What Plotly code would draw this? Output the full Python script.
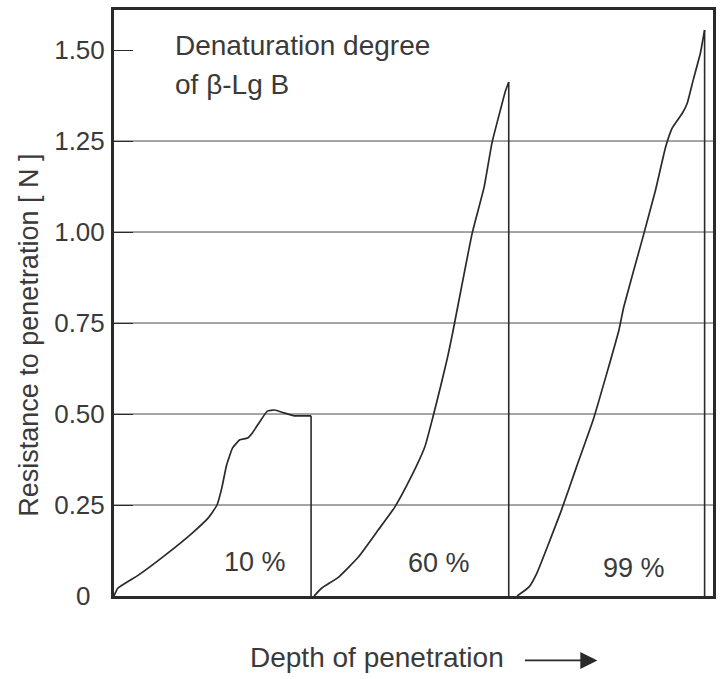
import plotly.graph_objects as go

# Depth of penetration (arbitrary units) and resistance to penetration [N]
depth_10 = [0, 0.66, 4.13, 8.6, 13.06, 15.7, 17.2, 18.0, 18.8, 19.8, 21.0, 22.3, 23.1,
            24.3, 25.6, 26.8, 28.4, 30.1, 32.9]
force_10 = [0, 0.022, 0.058, 0.113, 0.173, 0.214, 0.25, 0.297, 0.36, 0.407, 0.429, 0.434,
            0.448, 0.478, 0.508, 0.511, 0.503, 0.495, 0.495]

depth_60 = [33.4, 34.7, 37.5, 40.8, 44.1, 46.9, 49.6, 51.9, 53.2, 54.5, 55.7, 56.5, 59.8,
            61.8, 63.1, 64.5, 65.3, 65.9]
force_60 = [0, 0.022, 0.052, 0.107, 0.181, 0.245, 0.327, 0.41, 0.489, 0.574, 0.657, 0.72,
            0.997, 1.124, 1.245, 1.335, 1.385, 1.412]

depth_99 = [67.3, 69.3, 70.6, 74.7, 77.2, 80.0, 82.1, 84.3, 85.1, 88.3, 90.4, 92.1, 93.2,
            94.9, 95.7, 96.7, 97.9, 98.6]
force_99 = [0, 0.025, 0.063, 0.236, 0.354, 0.484, 0.602, 0.731, 0.794, 0.986, 1.115, 1.234,
            1.286, 1.327, 1.354, 1.418, 1.492, 1.555]

series_labels = ["10 %", "60 %", "99 %"]
label_x = [23.5, 54.2, 86.8]
label_y = [0.093, 0.09, 0.077]

tick_vals = [0, 0.25, 0.5, 0.75, 1.0, 1.25, 1.5]
tick_text = ["0\u00a0\u00a0", "0.25", "0.50", "0.75", "1.00", "1.25", "1.50"]
grid_vals = [0.25, 0.5, 0.75, 1.0, 1.25]

FONT = "Liberation Sans, Arial, Helvetica, sans-serif"
INK = "#2a2a2a"
TXT = "#3a3a3a"

fig = go.Figure()
for xs, ys, name in [(depth_10, force_10, series_labels[0]),
                     (depth_60, force_60, series_labels[1]),
                     (depth_99, force_99, series_labels[2])]:
    fig.add_trace(go.Scatter(x=xs, y=ys, mode="lines", name=name,
                             line=dict(color=INK, width=1.7, shape="spline", smoothing=0.4),
                             showlegend=False, hoverinfo="skip"))
    # vertical drop at the end of the penetration run
    fig.add_trace(go.Scatter(x=[xs[-1], xs[-1]], y=[ys[-1], 0], mode="lines",
                             line=dict(color=INK, width=1.6),
                             showlegend=False, hoverinfo="skip"))

shapes = []
for g in grid_vals:
    shapes.append(dict(type="line", xref="paper", yref="y", x0=0, x1=1, y0=g, y1=g,
                       line=dict(color="#4a4a4a", width=1), layer="below"))

annotations = []
for t, x, y in zip(series_labels, label_x, label_y):
    annotations.append(dict(x=x, y=y, xref="x", yref="y", text=t, showarrow=False,
                            font=dict(family=FONT, size=27, color=TXT)))
annotations.append(dict(x=9.8, y=1.513, xref="x", yref="y", text="Denaturation degree",
                        showarrow=False, xanchor="left", yanchor="middle",
                        font=dict(family=FONT, size=28, color=TXT)))
annotations.append(dict(x=9.8, y=1.405, xref="x", yref="y", text="of β-Lg B",
                        showarrow=False, xanchor="left", yanchor="middle",
                        font=dict(family=FONT, size=28, color=TXT)))
annotations.append(dict(x=-0.141, y=0.445, xref="paper", yref="paper",
                        text="Resistance to penetration [ N ]", textangle=-90,
                        showarrow=False, xanchor="center", yanchor="middle",
                        font=dict(family=FONT, size=27, color=TXT)))
annotations.append(dict(x=0.654, y=-0.105, xref="paper", yref="paper",
                        text="Depth of penetration", showarrow=False,
                        xanchor="right", yanchor="middle",
                        font=dict(family=FONT, size=28, color=TXT)))
annotations.append(dict(x=0.807, y=-0.11, xref="paper", yref="paper", text="",
                        showarrow=True, ax=-74, ay=0, arrowhead=2, arrowsize=1.9,
                        arrowwidth=1.8, arrowcolor=INK))

fig.update_layout(
    width=722, height=679,
    margin=dict(l=114, r=6, t=10, b=83),
    paper_bgcolor="white", plot_bgcolor="white",
    shapes=shapes, annotations=annotations,
    xaxis=dict(range=[0, 100], showgrid=False, zeroline=False, showticklabels=False,
               ticks="", showline=True, mirror=True, linecolor=INK, linewidth=3),
    yaxis=dict(range=[0, 1.61], tickvals=tick_vals, ticktext=tick_text,
               showgrid=False, zeroline=False, ticks="inside", ticklen=19,
               tickwidth=1.2, tickcolor=INK, showline=True, mirror=True,
               linecolor=INK, linewidth=3, ticklabelstandoff=1,
               tickfont=dict(family=FONT, size=26, color=TXT)),
)

fig.write_html("out.html")
